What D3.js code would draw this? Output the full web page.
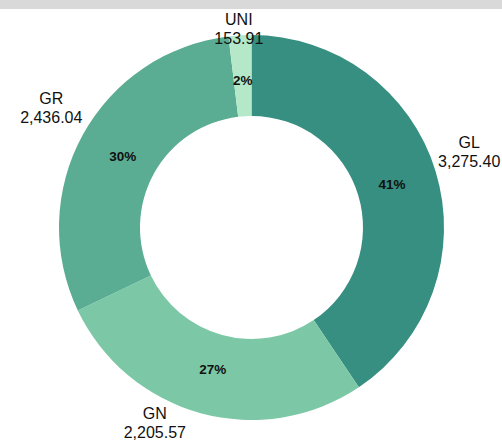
<!DOCTYPE html>
<html>
<head>
<meta charset="utf-8">
<script src="https://cdn.jsdelivr.net/npm/d3@7"></script>
<style>
  html, body { margin: 0; padding: 0; background: #fff; }
  svg { display: block; }
</style>
</head>
<body>
<div id="chart"></div>
<script>
// data
const categories = ['GL', 'GN', 'GR', 'UNI'];
const values = [3275.40, 2205.57, 2436.04, 153.91];
const colors = ['#368f80', '#7cc8a6', '#5aad93', '#b4e8c8'];

const width = 502, height = 442;
const headerH = 9;
const cx = 251.5, cy = 227.5;
const outerR = 192.5, innerR = 111.5;
const labelGap = 0;
const lineH = 19;
const liftUp = 9; // outer labels sit a bit above their anchor

const svg = d3.select('#chart').append('svg')
  .attr('width', width)
  .attr('height', height)
  .attr('font-family', 'Liberation Sans, Arial, sans-serif');

svg.append('rect')
  .attr('x', 0).attr('y', 0)
  .attr('width', width).attr('height', headerH)
  .attr('fill', '#d9d9d9');

const data = categories.map((c, i) => ({ name: c, value: values[i], color: colors[i] }));
const total = d3.sum(values);

const pie = d3.pie().sort(null).value(d => d.value);
const arcs = pie(data);

const arc = d3.arc().innerRadius(innerR).outerRadius(outerR);
const midR = (innerR + outerR) / 2 - 5;
const midArc = d3.arc().innerRadius(midR).outerRadius(midR);

const chart = svg.append('g').attr('transform', `translate(${cx},${cy})`);

chart.selectAll('path.slice')
  .data(arcs)
  .join('path')
  .attr('class', 'slice')
  .attr('d', arc)
  .attr('fill', d => d.data.color);

// percentages inside the ring
chart.selectAll('text.pct')
  .data(arcs)
  .join('text')
  .attr('class', 'pct')
  .attr('transform', d => `translate(${midArc.centroid(d)})`)
  .attr('text-anchor', 'middle')
  .attr('dy', '0.35em')
  .attr('font-family', 'Liberation Sans Narrow, Arial Narrow, sans-serif')
  .attr('font-weight', 'bold')
  .attr('font-size', 13.5)
  .attr('fill', '#111')
  .text(d => d3.format('.0%')(d.data.value / total));

// outside labels
const fmt = d3.format(',.2f');
const labels = chart.selectAll('g.lbl')
  .data(arcs)
  .join('g')
  .attr('class', 'lbl');

labels.append('text')
  .attr('text-anchor', 'middle')
  .attr('font-size', 16)
  .attr('fill', '#111')
  .selectAll('tspan')
  .data(d => [d.data.name, fmt(d.data.value)])
  .join('tspan')
  .attr('x', 0)
  .attr('y', (d, i) => (i - 0.5) * lineH + 5)
  .text(d => d);

labels.each(function (d) {
  const g = d3.select(this);
  const bb = this.getBBox();
  const hw = bb.width / 2, hh = bb.height / 2;
  const oy = bb.y + hh; // vertical centre of the block
  const a = (d.startAngle + d.endAngle) / 2;
  const sx = Math.sin(a), sy = -Math.cos(a);
  const dist = outerR + labelGap + Math.abs(hw * sx) + Math.abs(hh * sy);
  let x = dist * sx, y = dist * sy - liftUp;
  const top = headerH - cy + hh + 2, bottom = height - cy - hh - 1;
  if (y > bottom) {
    // slide along the label circle until it fits
    y = bottom;
    x = Math.sign(sx) * Math.sqrt(Math.max(0, dist * dist - y * y));
  } else if (y < top) {
    y = top;
  }
  g.attr('transform', `translate(${x},${y - oy})`);
});
</script>
</body>
</html>
